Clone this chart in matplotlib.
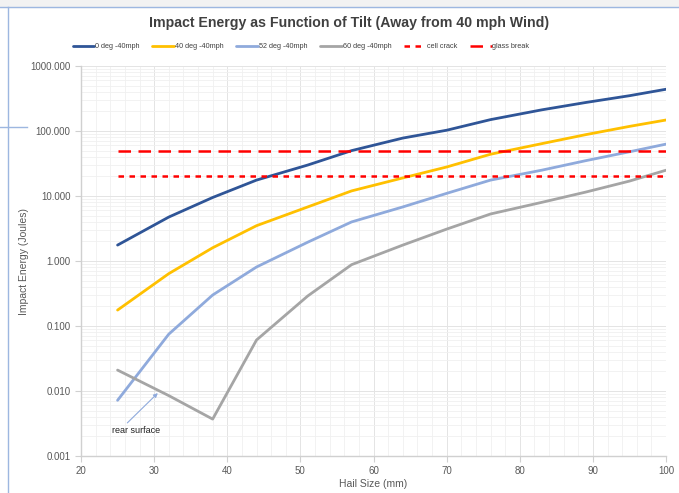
import matplotlib
matplotlib.use("Agg")
import matplotlib.pyplot as plt
from matplotlib.ticker import FixedLocator, FormatStrFormatter, LogLocator, MultipleLocator, NullFormatter
from matplotlib.lines import Line2D

hail_mm = [25, 32, 38, 44, 51, 57, 64, 70, 76, 83, 89, 95, 100]
e_0deg = [1.76, 4.75, 9.5, 17.6, 30, 50, 78, 103, 150, 212, 275, 350, 440]
e_40deg = [0.176, 0.64, 1.6, 3.5, 6.8, 12, 19, 28, 44, 64, 88, 118, 148]
e_52deg = [0.0072, 0.075, 0.30, 0.81, 1.95, 4.0, 6.8, 11, 17.6, 25, 35, 48, 63]
e_60deg = [0.021, 0.0085, 0.0037, 0.061, 0.29, 0.88, 1.76, 3.1, 5.3, 8, 11.5, 17, 25]
cell_crack = 20
glass_break = 50
thresh_x = [25, 100]

series_labels = ["0 deg -40mph", "40 deg -40mph", "52 deg -40mph", "60 deg -40mph"]
series_colors = ["#2F5597", "#FFC000", "#8FAADC", "#A5A5A5"]
y_ticks = [0.001, 0.01, 0.1, 1, 10, 100, 1000]
x_ticks = [20, 30, 40, 50, 60, 70, 80, 90, 100]

fig = plt.figure(figsize=(6.79, 4.93), dpi=100)
ax = fig.add_axes([0.1193, 0.075, 0.8617, 0.791])

for vals, lab, col in zip([e_0deg, e_40deg, e_52deg, e_60deg], series_labels, series_colors):
    ax.plot(hail_mm, vals, color=col, lw=2.0, label=lab, solid_capstyle="round", zorder=3)

ax.plot(thresh_x, [cell_crack] * 2, color="#FF0000", lw=1.8, ls=(0, (2.2, 2.2)), label="cell crack", zorder=4)
ax.plot(thresh_x, [glass_break] * 2, color="#FF0000", lw=1.8, ls=(0, (5, 3)), label="glass break", zorder=4)

ax.set_yscale("log")
ax.set_ylim(0.001, 1000)
ax.set_xlim(20, 100)
ax.yaxis.set_major_locator(FixedLocator(y_ticks))
ax.yaxis.set_major_formatter(FormatStrFormatter("%.3f"))
ax.yaxis.set_minor_locator(LogLocator(base=10, subs=range(2, 10)))
ax.yaxis.set_minor_formatter(NullFormatter())
ax.xaxis.set_major_locator(FixedLocator(x_ticks))
ax.xaxis.set_minor_locator(MultipleLocator(2))

ax.grid(which="major", color="#E4E4E4", lw=0.7)
ax.grid(which="minor", color="#F0F0F0", lw=0.6)
ax.set_axisbelow(True)

for s in ["top", "right"]:
    ax.spines[s].set_visible(False)
for s in ["left", "bottom"]:
    ax.spines[s].set_color("#D0D0D0")
    ax.spines[s].set_linewidth(1.0)

ax.tick_params(which="major", colors="#D0D0D0", labelcolor="#595959", labelsize=7, length=4)
ax.tick_params(which="minor", length=0)

ax.set_xlabel("Hail Size (mm)", fontsize=7.5, color="#595959", labelpad=2, family="Liberation Sans")
ax.set_ylabel("Impact Energy (Joules)", fontsize=7.5, color="#595959", labelpad=1, family="Liberation Sans")
for t in ax.get_xticklabels() + ax.get_yticklabels():
    t.set_family("Liberation Sans")

ax.annotate("rear surface", xy=(30.5, 0.0093), xytext=(24.3, 0.0025),
            fontsize=6.5, color="#222222", family="Liberation Sans", va="center",
            arrowprops=dict(arrowstyle="-|>", color="#8FAADC", lw=0.8,
                            mutation_scale=6, shrinkA=0, shrinkB=0,
                            relpos=(0.25, 1.0)))

fig.text(0.514, 0.953, "Impact Energy as Function of Tilt (Away from 40 mph Wind)",
         ha="center", va="center", fontsize=10.2, fontweight="bold", color="#404040",
         family="Liberation Sans")

leg = ax.legend(loc="center", bbox_to_anchor=(0.376, 1.049), ncol=6, frameon=False,
                handlelength=3.0, columnspacing=1.8, handletextpad=0.1,
                prop={"family": "Liberation Sans", "size": 5.2})
for t in leg.get_texts():
    t.set_color("#404040")

# screenshot frame artifacts
fig.add_artist(Line2D([0, 1], [0.985, 0.985], color="#9DB7E0", lw=1.0, transform=fig.transFigure))
fig.add_artist(Line2D([0.012, 0.012], [0.0, 0.985], color="#9DB7E0", lw=1.0, transform=fig.transFigure))
fig.add_artist(Line2D([0.0, 0.04], [0.742, 0.742], color="#9DB7E0", lw=1.0, transform=fig.transFigure))
fig.patches.append(plt.Rectangle((0, 0.985), 1, 0.015, transform=fig.transFigure,
                                 color="#F2F2F2", zorder=-1))

fig.savefig("out.png", dpi=100)
